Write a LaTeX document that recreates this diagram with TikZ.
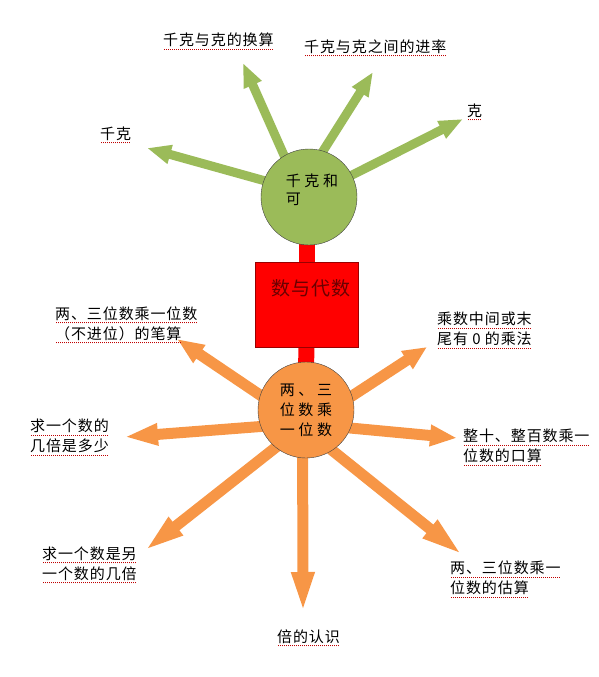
\documentclass[tikz,border=0pt]{standalone}
\usepackage{fontspec}
\newfontfamily\cjkfont{Noto Sans CJK SC}[LetterSpace=6]
\newfontfamily\cjkwide{Noto Sans CJK SC}[LetterSpace=24]
\usetikzlibrary{arrows.meta,backgrounds}
\definecolor{mapgreen}{HTML}{9BBB59}
\definecolor{maporange}{HTML}{F79646}
\definecolor{mapred}{HTML}{FF0000}
\definecolor{spellred}{HTML}{C00000}
\definecolor{boxtext}{HTML}{6A0000}
\newsavebox\spellbox
\newcommand\spell[1]{\sbox\spellbox{#1}\rlap{\usebox\spellbox}\raisebox{-4pt}{\color{spellred}\hbox to \wd\spellbox{\leaders\hbox to 2pt{\hss\rule{1pt}{1.2pt}\hss}\hfill}}}

\begin{document}
\begin{tikzpicture}[x=1pt,y=-1pt,
  leaf/.style={font=\cjkfont\fontsize{15}{20}\selectfont,align=left,inner sep=0pt,anchor=west},
  hub/.style={circle,draw=black!75,minimum size=96pt,inner sep=0pt},
  greenarrow/.style={draw=mapgreen,line width=9pt,-{Triangle[length=24pt,width=18pt]},shorten <=-6pt},
  orangearrow/.style={draw=maporange,line width=11pt,-{Triangle[length=#1,width=20pt]},shorten <=-8pt},
  orangearrow/.default=30pt,
  stem/.style={draw=mapred,line width=16pt}]
  \useasboundingbox (0,0) rectangle (598,677);
  \node[hub,fill=mapgreen] (g) at (309,197) {};
  \node[font=\cjkwide\fontsize{15}{18}\selectfont,align=left,inner sep=0pt] (gt) at (312,190) {千克和\\可};
  \node[draw=red!60!black,fill=mapred,minimum width=103pt,minimum height=85pt] (topic) at (306.5,304.5) {};
  \node[font=\cjkfont\fontsize{19}{22}\selectfont,text=boxtext,inner sep=0pt] (topict) at (311,288) {数与代数};
  \node[hub,fill=maporange,font=\cjkwide\fontsize{15}{20}\selectfont,align=left] (o) at (306,410) {两、三\\位数乘\\一位数};

  \node[leaf] (kg) at (100,135) {\spell{千克}};
  \node[leaf] (conv) at (163,41.5) {\spell{千克与克的换算}};
  \node[leaf] (rate) at (304,48) {\spell{千克与克之间的进率}};
  \node[leaf] (gram) at (467,112) {\spell{克}};
  \node[leaf] (written) at (55,325) {\spell{两、三位数乘一位数}\\\spell{（不进位）的笔算}};
  \node[leaf] (zero) at (437,330.5) {\spell{乘数中间或末}\\\spell{尾有 0 的乘法}};
  \node[leaf] (times) at (30,437.5) {\spell{求一个数的}\\\spell{几倍是多少}};
  \node[leaf] (oral) at (463,447.5) {\spell{整十、整百数乘一}\\\spell{位数的口算}};
  \node[leaf] (howmany) at (42,565) {\spell{求一个数是另}\\\spell{一个数的几倍}};
  \node[leaf] (bei) at (277,638) {\spell{倍的认识}};
  \node[leaf] (estimate) at (450,579.5) {\spell{两、三位数乘一}\\\spell{位数的估算}};

  \coordinate (tg1) at (147,148);
  \coordinate (tg2) at (243,63);
  \coordinate (tg3) at (373,72);
  \coordinate (tg4) at (463,119);
  \coordinate (to1) at (177,339);
  \coordinate (to2) at (427,347);
  \coordinate (to3) at (124,437);
  \coordinate (to4) at (457,438);
  \coordinate (to5) at (143,552);
  \coordinate (to6) at (303,615);
  \coordinate (to7) at (465,557);

  \begin{scope}[on background layer]
    \draw[stem] (topic.center) -- (topic.center |- g.center);
    \draw[stem] (topic.center) -- (o.center);
    \foreach \a/\t in {160/tg1,121/tg2,73/tg3,27/tg4}
      \draw[greenarrow] (g.\a) -- (\t);
    \foreach \a/\t/\l in {162/to1/27pt,17/to2/24pt,200/to3/34pt,338/to4/27pt,231/to5/42pt,266/to6/43pt,303/to7/45pt}
      \draw[orangearrow=\l] (o.\a) -- (\t);
  \end{scope}
\end{tikzpicture}
\end{document}
